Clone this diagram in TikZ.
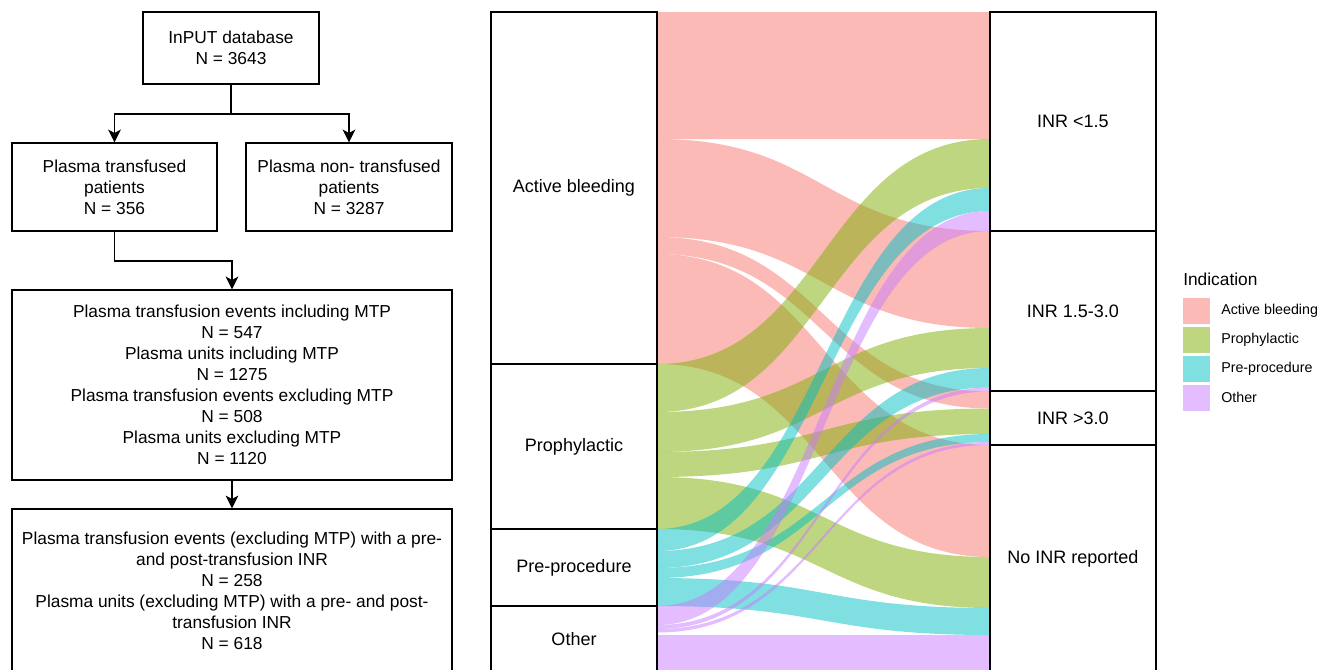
\documentclass[tikz,border=0pt]{standalone}
\usepackage{fontspec}
\setmainfont{Liberation Sans}
\usetikzlibrary{arrows.meta}
\definecolor{bleedcol}{HTML}{F8766D}
\definecolor{prophcol}{HTML}{7CAE00}
\definecolor{precol}{HTML}{00BFC4}
\definecolor{othercol}{HTML}{C77CFF}
\tikzset{
  flowbox/.style={draw, line width=1.1pt, align=center, inner sep=0pt,
    font=\fontsize{13}{15.8}\selectfont},
  stratum/.style={draw, fill=white, line width=1.1pt, minimum width=124.5pt,
    inner sep=0pt, font=\fontsize{13.5}{16}\selectfont},
  arr/.style={line width=1.1pt, -{Stealth[length=9.5pt,width=9.5pt,inset=2.5pt]}},
  legkey/.style={minimum width=20.25pt, minimum height=19.5pt, inner sep=0pt, fill opacity=0.5},
  leglabel/.style={anchor=west, inner sep=0pt, font=\fontsize{10.7}{12}\selectfont}
}
\begin{document}
\begin{tikzpicture}[x=0.75pt,y=-0.75pt]
        \useasboundingbox (0,0) rectangle (1332,669);
        \clip (0,0) rectangle (1332,669);
        %% Flow chart
        \node[flowbox, minimum width=132pt, minimum height=54pt] (db) at (231,48)
            {InPUT database\\N = 3643};
        \node[flowbox, minimum width=153.75pt, minimum height=66pt] (tx) at (114.5,187)
            {Plasma transfused\\patients\\N = 356};
        \node[flowbox, minimum width=154.5pt, minimum height=66pt] (ntx) at (349,187)
            {Plasma non- transfused\\patients\\N = 3287};
        \node[flowbox, minimum width=330pt, minimum height=142.5pt] (ev) at (232,385)
            {Plasma transfusion events including MTP\\N = 547\\Plasma units including MTP\\N = 1275\\
             Plasma transfusion events excluding MTP\\N = 508\\Plasma units excluding MTP\\N = 1120};
        \node[flowbox, minimum width=330pt, minimum height=122.25pt] (inr) at (232,590.5)
            {Plasma transfusion events (excluding MTP) with a pre-\\and post-transfusion INR\\N = 258\\
             Plasma units (excluding MTP) with a pre- and post-\\transfusion INR\\N = 618};
        \coordinate (split) at (231,114);
        \coordinate (bend) at (114.5,261);
        \draw[line width=1.1pt] (db.south) -- (split);
        \draw[arr] (split) -| (tx.north);
        \draw[arr] (split) -| (ntx.north);
        \draw[arr] (tx.south) -- (bend) -| (ev.north);
        \draw[arr] (ev.south) -- (inr.north);
        %% Flows
        \foreach \col/\la/\lb/\ra/\rb in {
            bleedcol/12/139/12/139, bleedcol/139/237/231/328,
            bleedcol/237/254/391.5/408.5, bleedcol/254/364/445/557,
            prophcol/364/412/139/188, prophcol/412/452/328/368,
            prophcol/452/477/408.5/434, prophcol/477/529/557/608,
            precol/529/551/188/211, precol/551/568/368/387.5,
            precol/568/578/434/442, precol/578/606/608/635,
            othercol/606/625/211/231, othercol/625/629/387.5/391.5,
            othercol/629/632.5/442/445, othercol/635/672/635/672}
          \fill[\col, fill opacity=0.5] (657,\la) .. controls (823.5,\la) and (823.5,\ra) .. (990,\ra)
            -- (990,\rb) .. controls (823.5,\rb) and (823.5,\lb) .. (657,\lb) -- cycle;
        %% Strata
        \node[stratum, minimum height=264pt] (sbleed) at (574,188) {Active bleeding};
        \node[stratum, minimum height=123.75pt] (sproph) at (574,446.5) {Prophylactic};
        \node[stratum, minimum height=57.75pt] (spre) at (574,567.5) {Pre-procedure};
        \node[stratum, minimum height=49.5pt] (sother) at (574,639) {Other};
        \node[stratum, minimum height=164.25pt] (rlow) at (1073,121.5) {INR <1.5};
        \node[stratum, minimum height=120pt] (rmid) at (1073,311) {INR 1.5-3.0};
        \node[stratum, minimum height=40.5pt] (rhigh) at (1073,418) {INR >3.0};
        \node[stratum, minimum height=170.25pt] (rnone) at (1073,558.5) {No INR reported};
        %% Legend
        \node[anchor=west, inner sep=0pt, font=\fontsize{13}{15}\selectfont] (legtitle) at (1183,279) {Indication};
        \node[legkey, fill=bleedcol] (kbleed) at (1196.5,310.5) {};
        \node[legkey, fill=prophcol] (kproph) at (1196.5,339.5) {};
        \node[legkey, fill=precol] (kpre) at (1196.5,369) {};
        \node[legkey, fill=othercol] (kother) at (1196.5,397.5) {};
        \node[leglabel] (lbleed) at (1221,310.5) {Active bleeding};
        \node[leglabel] (lproph) at (1221,339.5) {Prophylactic};
        \node[leglabel] (lpre) at (1221,369) {Pre-procedure};
        \node[leglabel] (lother) at (1221,397.5) {Other};
\end{tikzpicture}
\end{document}
